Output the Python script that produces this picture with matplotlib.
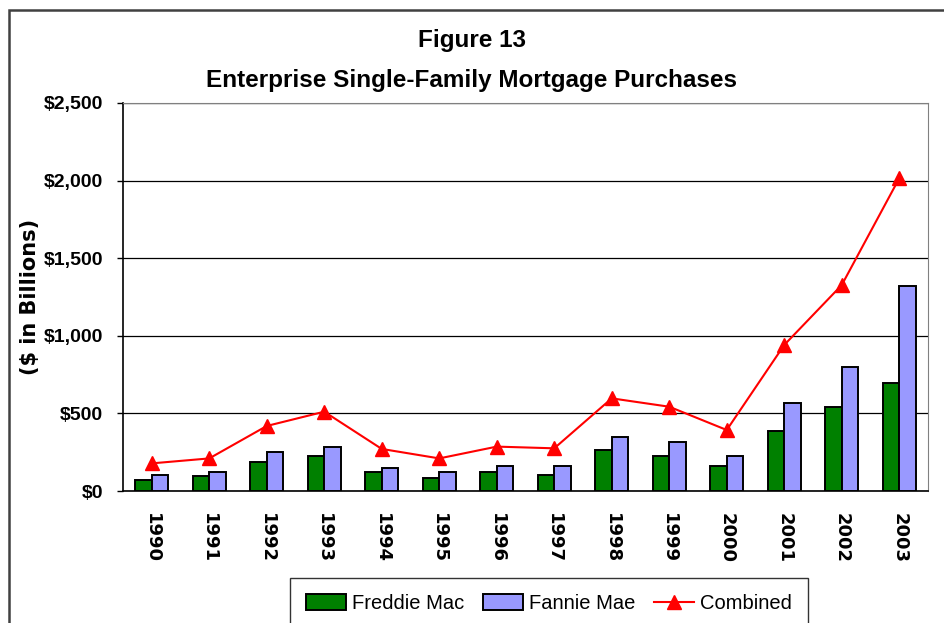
import matplotlib
matplotlib.use("Agg")
import matplotlib.pyplot as plt
import numpy as np
from matplotlib.patches import Rectangle
from matplotlib.ticker import FuncFormatter

years = ["1990", "1991", "1992", "1993", "1994", "1995", "1996",
         "1997", "1998", "1999", "2000", "2001", "2002", "2003"]
freddie = [71, 94, 187, 223, 120, 84, 122, 105, 262, 223, 161, 389, 543, 696]
fannie = [105, 120, 249, 286, 146, 122, 159, 159, 350, 314, 223, 567, 799, 1321]
combined = [178, 210, 419, 511, 271, 210, 286, 275, 597, 543, 393, 941, 1327, 2015]
y_ticks = [0, 500, 1000, 1500, 2000, 2500]

title_fam = ["Liberation Sans", "DejaVu Sans"]

fig = plt.figure(figsize=(9.44, 6.23), dpi=100)
W, H = 944, 623
ax = fig.add_axes([123 / W, 1 - 491 / H, (928 - 123) / W, (491 - 103) / H])

x = np.arange(len(years))
bw = 0.29
ax.bar(x - bw / 2, freddie, bw, color="#008000", edgecolor="black", linewidth=1.4, zorder=3,
       label="Freddie Mac")
ax.bar(x + bw / 2, fannie, bw, color="#9999FF", edgecolor="black", linewidth=1.4, zorder=3,
       label="Fannie Mae")
ax.plot(x, combined, color="#FF0000", linewidth=1.5, marker="^", markersize=10,
        markerfacecolor="#FF0000", markeredgecolor="#FF0000", zorder=4, label="Combined")

ax.set_xlim(-0.5, len(years) - 0.5)
ax.set_ylim(0, 2500)
ax.set_yticks(y_ticks)
ax.yaxis.set_major_formatter(FuncFormatter(lambda v, p: "${:,.0f}".format(v)))
ax.set_xticks(x)
ax.set_xticklabels(years, rotation=270, fontweight="bold", fontsize=13, family="DejaVu Sans")
ax.tick_params(axis="x", length=0, pad=16)
ax.tick_params(axis="y", length=4.3, width=1, pad=10, direction="out")
for lbl in ax.get_yticklabels():
    lbl.set_fontweight("bold")
    lbl.set_fontsize(14)
    lbl.set_family(["Liberation Sans", "DejaVu Sans"])

ax.grid(axis="y", color="black", linewidth=0.9, zorder=0)
ax.set_axisbelow(True)
ax.spines["left"].set_color("black")
ax.spines["left"].set_linewidth(1.2)
ax.spines["bottom"].set_color("black")
ax.spines["bottom"].set_linewidth(1.2)
ax.spines["right"].set_color("#808080")
ax.spines["top"].set_color("#808080")

ax.set_ylabel("($ in Billions)", fontsize=15, fontweight="bold", family="DejaVu Sans")
ax.yaxis.set_label_coords(-(123 - 30) / (928 - 123), 0.5)
ax.yaxis.label.set_va("center")

fig.text(0.5, 1 - 40 / H, "Figure 13", ha="center", va="center", fontsize=17.5,
         fontweight="bold", family=title_fam)
fig.text(0.5, 1 - 80 / H, "Enterprise Single-Family Mortgage Purchases", ha="center",
         va="center", fontsize=17.5, fontweight="bold", family=title_fam)

# outer frame
fig.add_artist(Rectangle((9 / W, -0.2), 1.2, (1 - 10 / H) + 0.2, transform=fig.transFigure,
                         fill=False, edgecolor="#404040", linewidth=1.8))

handles, labels = ax.get_legend_handles_labels()
order = [labels.index("Freddie Mac"), labels.index("Fannie Mae"), labels.index("Combined")]
handles = [handles[i] for i in order]
labels = [labels[i] for i in order]
leg = fig.legend(handles, labels, loc="upper center", bbox_to_anchor=(549 / W, 1 - 578 / H),
                 ncol=3, frameon=True, fancybox=False, edgecolor="black",
                 prop={"family": ["Liberation Sans", "DejaVu Sans"], "size": 14.5},
                 handlelength=2.0, handleheight=0.8, columnspacing=0.9, handletextpad=0.3,
                 borderpad=0.8, borderaxespad=0)
leg.get_frame().set_linewidth(1.0)

fig.savefig("out.png", dpi=100)
